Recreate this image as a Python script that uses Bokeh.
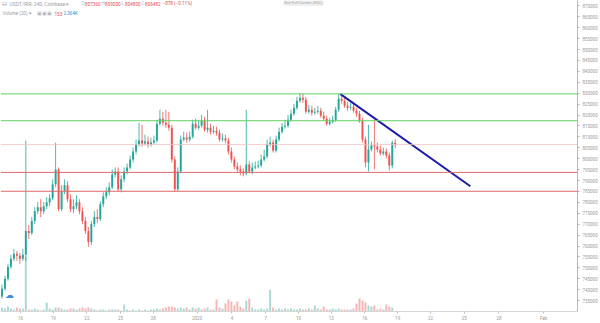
from bokeh.plotting import figure
from bokeh.models import (Range1d, Span, Label, FixedTicker, SingleIntervalTicker,
                          BasicTickFormatter, ColumnDataSource)
from bokeh.embed import file_html
from bokeh.resources import INLINE

# ---------------- data ----------------
symbol = "USDT/IRR, 240, Coinbase"
open_ = [736870, 740510, 745060, 750520, 754160, 756430, 755520, 754160, 755980, 766900,
         765990, 771450, 776000, 777820, 776000, 778270, 780090, 781910, 788280, 795110,
         776910, 785100, 787830, 781460, 776910, 778270, 780090, 776000, 771450, 766900,
         761890, 770080, 773270, 772360, 779180, 782820, 784640, 786920, 792830, 794200,
         786010, 790560, 794200, 796020, 799660, 803300, 806480, 808300, 806940, 807850,
         806480, 807390, 808300, 816040, 818310, 816490, 815580, 814220, 799660, 786010,
         794200, 808760, 809670, 808760, 810120, 816040, 814220, 815130, 817400, 813310,
         814220, 812400, 812850, 811940, 808760, 809210, 808300, 803300, 799660, 796470,
         795110, 794200, 793290, 797380, 794200, 796020, 796470, 796930, 799660, 801020,
         806480, 807390, 803750, 808760, 812400, 814670, 815130, 817860, 820590, 823320,
         826500, 827870, 826960, 821500, 822410, 821040, 821500, 821950, 819680, 818310,
         816040, 816950, 817860, 822410, 827410, 826500, 824230, 823320, 823770, 821950,
         820590, 817400, 808760, 798290, 804210, 806030, 805570, 804210, 802390, 803300,
         801480, 796930, 807360]
high = [742330, 746420, 751880, 755980, 758710, 757800, 756890, 758710, 808300, 769630,
        773270, 777820, 780090, 781460, 780090, 782370, 783730, 790560, 807390, 796020,
        787830, 790560, 789650, 783730, 781460, 783280, 781460, 777820, 773270, 768720,
        771450, 776000, 776910, 780550, 784640, 786920, 789200, 795110, 796020, 796020,
        792380, 796020, 797840, 801480, 805120, 808760, 816490, 815580, 811030, 810120,
        809670, 810580, 817860, 822410, 821500, 822410, 821500, 815580, 801020, 796020,
        810580, 812400, 811940, 812400, 817860, 818310, 817400, 820130, 819220, 822410,
        816040, 815130, 814670, 813310, 811490, 811030, 809670, 805120, 801020, 798290,
        796930, 795560, 822410, 798750, 798290, 798750, 799200, 801930, 804210, 808760,
        810120, 808760, 810580, 814220, 816490, 817860, 820130, 822410, 825140, 828320,
        830140, 829690, 828320, 824680, 824230, 823320, 824230, 823320, 821500, 819680,
        818770, 819680, 823770, 829690, 829230, 827870, 826050, 825590, 825140, 823320,
        821950, 818770, 810120, 815580, 807850, 817860, 807390, 806030, 805120, 804660,
        802840, 808300, 809000]
low = [735960, 739600, 744150, 749610, 753250, 753250, 751880, 753250, 753250, 763260,
       765080, 770080, 774630, 773270, 774630, 776910, 778270, 781000, 786920, 776000,
       776000, 783730, 780090, 775540, 775090, 776910, 774630, 770080, 765530, 759620,
       760530, 768720, 770540, 771450, 777820, 781460, 783280, 786010, 791470, 785100,
       784640, 789200, 792830, 795110, 798290, 801930, 805570, 805570, 806030, 805120,
       805570, 806480, 807390, 815130, 815130, 814220, 812850, 798290, 785100, 785100,
       793290, 807850, 807390, 807850, 809210, 813310, 813310, 814220, 812400, 811940,
       811030, 811490, 810580, 807850, 807850, 806940, 801930, 798290, 795110, 793740,
       792380, 791920, 792380, 793290, 792830, 795110, 795560, 796020, 798750, 800110,
       805570, 802840, 802840, 807850, 811490, 813760, 814220, 816950, 819680, 822410,
       825590, 825590, 820590, 820590, 819680, 820130, 820590, 818770, 817400, 815130,
       815130, 816040, 816950, 821500, 825140, 823320, 821950, 822410, 821040, 819220,
       816490, 807390, 796020, 794200, 803300, 795110, 802840, 801480, 801480, 800110,
       794650, 795560, 804800]
close = [740510, 745060, 750520, 754160, 756430, 755520, 754160, 755980, 766900, 765990,
         771450, 776000, 777820, 776000, 778270, 780090, 781910, 788280, 795110, 776910,
         785100, 787830, 781460, 776910, 778270, 780090, 776000, 771450, 766900, 761890,
         770080, 773270, 772360, 779180, 782820, 784640, 786920, 792830, 794200, 786010,
         790560, 794200, 796020, 799660, 803300, 806480, 808300, 806940, 807850, 806480,
         807390, 808300, 816040, 818310, 816490, 815580, 814220, 799660, 786010, 794200,
         808760, 809670, 808760, 810120, 816040, 814220, 815130, 817400, 813310, 814220,
         812400, 812850, 811940, 808760, 809210, 808300, 803300, 799660, 796470, 795110,
         794200, 793290, 797380, 794200, 796020, 796470, 796930, 799660, 801020, 806480,
         807390, 803750, 808760, 812400, 814670, 815130, 817860, 820590, 823320, 826500,
         827870, 826960, 821500, 822410, 821040, 821500, 821950, 819680, 818310, 816040,
         816950, 817860, 822410, 827410, 826500, 824230, 823320, 823770, 821950, 820590,
         817400, 808760, 798290, 804210, 806030, 805570, 804210, 802390, 803300, 801480,
         796930, 807360, 806482]
volume = [3200, 2400, 4000, 2400, 1600, 3200, 2400, 2400, 44000, 1600,
          1600, 2400, 1600, 800, 1600, 7200, 2400, 1600, 3200, 3200,
          2400, 1600, 1600, 2400, 2400, 1600, 2400, 3200, 2400, 3200,
          2400, 1600, 800, 1600, 1600, 800, 1600, 1600, 1600, 1600,
          800, 5600, 1600, 800, 1600, 800, 1600, 800, 1600, 800,
          1600, 1600, 2400, 1600, 2400, 3200, 4000, 4000, 3200, 2400,
          3200, 2400, 3200, 1600, 3200, 2400, 3200, 1600, 2400, 3200,
          1600, 1600, 9600, 3200, 2400, 6400, 9600, 8000, 4800, 8000,
          4000, 2400, 8800, 10400, 3200, 1600, 1600, 2400, 1600, 2400,
          17600, 3200, 1600, 2400, 1600, 2400, 1600, 2400, 1600, 1600,
          2400, 1600, 1600, 2400, 1600, 4800, 2400, 1600, 4000, 1600,
          1600, 2400, 1600, 2400, 1600, 1600, 1600, 1600, 2400, 6400,
          10400, 8800, 7200, 4800, 4000, 4800, 1600, 2400, 1600, 5600,
          4000, 3200, 153]
volume_ma = "2.364K"
time_tick_index = [6.2, 17.2, 28.5, 39.8, 50.8, 65.5, 77.2, 88.5, 99.5, 110.5,
                   121.8, 132.8, 143.8, 155.2, 166.8, 181.8]
time_tick_labels = ["16", "19", "22", "25", "28", "2020", "4", "7", "10", "13",
                    "16", "19", "22", "25", "28", "Feb"]
resistance_levels = [829687, 817402]
support_levels = [793742, 785097]
last_price = 806482
change_text = "\u2212878 (\u22120.11%)"
trend_index = [113.5, 157.2]
trend_price = [829690, 787370]

# ---------------- build ----------------
UP, DOWN = "#26a69a", "#ef5350"
UP_V, DOWN_V = "#a8dad5", "#f7b5b3"
FONT = "Roboto"

n = len(close)
idx = list(range(n))
rising = [c >= o for o, c in zip(open_, close)]
src = ColumnDataSource(dict(
    x=idx, o=open_, h=high, l=low, c=close, v=volume,
    top=[max(o, c) for o, c in zip(open_, close)],
    bot=[min(o, c) for o, c in zip(open_, close)],
    col=[UP if r else DOWN for r in rising],
    vcol=[UP_V if r else DOWN_V for r in rising],
))

p = figure(width=600, height=323, output_backend="svg", toolbar_location=None,
           x_range=Range1d(-0.5, 193.17), y_range=Range1d(730042, 872457),
           y_axis_location="right", min_border_left=0, min_border_top=0,
           min_border_right=19, min_border_bottom=10)
p.outline_line_color = None
p.background_fill_color = "white"
p.border_fill_color = "white"
p.xgrid.grid_line_color = None
p.ygrid.grid_line_color = None

p.extra_y_ranges = {"vol": Range1d(0, 250400)}

# axes
ya = p.yaxis[0]
ya.ticker = SingleIntervalTicker(interval=5000, num_minor_ticks=0)
ya.formatter = BasicTickFormatter(use_scientific=False)
ya.major_label_text_font_size = "4.5px"
ya.major_label_text_color = "#9a9a9a"
ya.major_label_text_font = FONT
ya.major_label_standoff = 3
ya.major_tick_out = 2
ya.major_tick_in = 0
ya.major_tick_line_color = "#b0b0b0"
ya.minor_tick_line_color = None
ya.axis_line_color = "#b8b8b8"

xa = p.xaxis[0]
xa.ticker = FixedTicker(ticks=time_tick_index)
xa.major_label_overrides = {t: s for t, s in zip(time_tick_index, time_tick_labels)}
xa.major_label_text_font_size = "4.5px"
xa.major_label_text_color = "#9a9a9a"
xa.major_label_text_font = FONT
xa.major_label_standoff = 2
xa.major_tick_out = 2
xa.major_tick_in = 0
xa.major_tick_line_color = "#c0c0c0"
xa.minor_tick_line_color = None
xa.axis_line_color = "#d6d6d6"

# volume
p.vbar(x="x", width=0.65, top="v", bottom=0, fill_color="vcol", line_color=None,
       source=src, y_range_name="vol")

# level lines
for lv in resistance_levels:
    p.add_layout(Span(location=lv, dimension="width", line_color="#5fd35f", line_width=1))
for lv in support_levels:
    p.add_layout(Span(location=lv, dimension="width", line_color="#e06a6a", line_width=1))
p.add_layout(Span(location=last_price, dimension="width", line_color="#f3c0c0", line_width=0.8))

# candles
p.segment(x0="x", y0="h", x1="x", y1="l", line_color="col", line_width=0.8, source=src)
p.vbar(x="x", width=0.65, top="top", bottom="bot", fill_color="col", line_color=None, source=src)

# trend line
p.line(trend_index, trend_price, line_color="#1c1ca8", line_width=2)

# price tags on the right axis
def tag(price, bg, fg):
    p.add_layout(Label(x=582, x_units="screen", y=price, text=str(price),
                       text_font_size="4.5px", text_font=FONT, text_color=fg,
                       text_baseline="middle", background_fill_color=bg,
                       padding=1))

for lv in resistance_levels:
    tag(lv, "#3fe03f", "#1a3a1a")
for lv in support_levels:
    tag(lv, "#e8262b", "white")
tag(last_price, "#ef5350", "white")

# header texts (frame-relative screen coords; y from frame bottom = 313)
def txt(x, y, s, color, size="5px"):
    p.add_layout(Label(x=x, y=y, x_units="screen", y_units="screen", text=s,
                       text_font_size=size, text_font=FONT, text_color=color,
                       text_baseline="middle"))

txt(1, 308, "\u229f", "#9aa0aa", "6px")
txt(9, 308, symbol + " \u25be", "#9aa0aa", "5px")
ohlc = [("O", open_[-1]), ("H", high[-1]), ("L", low[-1]), ("C", close[-1])]
xx = 81
for k, val in ohlc:
    txt(xx, 308, k, "#b0b4bc", "4.6px")
    txt(xx + 3.6, 308, str(val), "#e0504c", "4.6px")
    xx += 20
txt(xx + 1, 308, change_text, "#e0504c", "4.6px")
txt(2, 298, "Volume (20) \u25be", "#9aa0aa", "4.6px")
txt(36, 298, "\u25a3\u25a3\u25a3", "#b0b4bc", "4.6px")
txt(54, 298, str(volume[-1]), "#e0504c", "4.6px")
txt(63, 298, volume_ma, "#2a8fd6", "4.6px")
p.add_layout(Label(x=283, y=309, x_units="screen", y_units="screen",
                   text="Exit Full Screen (ESC)", text_font_size="4px", text_font=FONT,
                   text_color="#a0a0a0", text_baseline="middle",
                   background_fill_color="#f0f0f0", padding=1))
txt(4, 17, "\u2601", "#3d8fe0", "9px")
p.add_layout(Label(x=586, y=-5, x_units="screen", y_units="screen", text="\u2699",
                   text_font_size="8px", text_color="#555555", text_baseline="middle"))

open("out.html", "w").write(file_html(p, INLINE))
